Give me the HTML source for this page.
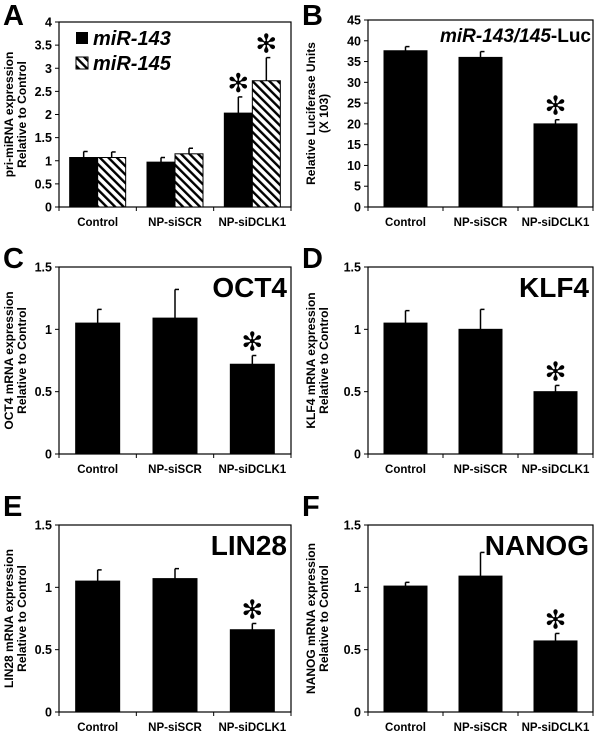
<!DOCTYPE html>
<html><head><meta charset="utf-8"><style>
html,body{margin:0;padding:0;background:#fff;}
svg{display:block;font-family:"Liberation Sans",Arial,sans-serif;font-weight:bold;}
</style></head><body>
<svg id="fig" width="600" height="742" viewBox="0 0 600 742">
<defs>
<pattern id="hatch" patternUnits="userSpaceOnUse" width="6" height="6" patternTransform="rotate(-45)">
<rect width="6" height="6" fill="#fff"/><rect width="2.4" height="6" fill="#000"/>
</pattern>
</defs>
</svg>
<script>
const cats = ["Control","NP-siSCR","NP-siDCLK1"];
const aMiR143 = [1.07,0.97,2.03];
const aMiR143Err = [0.13,0.10,0.35];
const aMiR145 = [1.07,1.15,2.73];
const aMiR145Err = [0.12,0.12,0.50];
const aTicks = ["0","0.5","1","1.5","2","2.5","3","3.5","4"];
const bVals = [37.6,36.0,20.0];
const bErr = [1.0,1.4,1.0];
const bTicks = ["0","5","10","15","20","25","30","35","40","45"];
const cVals = [1.05,1.09,0.72];
const cErr = [0.11,0.23,0.07];
const dVals = [1.05,1.00,0.50];
const dErr = [0.10,0.16,0.05];
const eVals = [1.05,1.07,0.66];
const eErr = [0.09,0.08,0.05];
const fVals = [1.01,1.09,0.57];
const fErr = [0.03,0.19,0.06];
const geneTicks = ["0","0.5","1","1.5"];
const signif = [false,false,true];

const svg = document.getElementById('fig');
const NS = 'http://www.w3.org/2000/svg';
function mk(tag, attrs, parent){
  const e = document.createElementNS(NS, tag);
  for (const k in attrs) e.setAttribute(k, attrs[k]);
  (parent||svg).appendChild(e); return e;
}
function txt(s, attrs, parent){ const t = mk('text', attrs, parent); t.textContent = s; return t; }

function panel(o){
  const g = mk('g', {});
  
  
  const x0=o.x0,x1=o.x1,y0=o.y0,y1=o.y1,ymax=o.ymax;
  const ys = v => y1 - (v/ymax)*(y1-y0);
  const gw = (x1-x0)/cats.length;
  const xs = i => x0 + gw*(i+0.5);
  const frame = mk('rect',{x:x0,y:y0,width:x1-x0,height:y1-y0,fill:'none',stroke:'#000','stroke-width':1.2},g);
  
  
  o.ticks.forEach(t=>{
    const y = ys(parseFloat(t));
    mk('line',{x1:x0-4,x2:x0,y1:y,y2:y,stroke:'#000','stroke-width':1},g);
    const l = txt(t,{x:x0-7,y:y+4.5,'text-anchor':'end','font-size':12.5},g);
    
    
  });
  for (let i=0;i<=cats.length;i++){
    const x = x0+gw*i;
    mk('line',{x1:x,x2:x,y1:y1,y2:y1+4,stroke:'#000','stroke-width':1},g);
  }
  cats.forEach((c,i)=>{
    const l = txt(c,{x:xs(i),y:y1+19,'text-anchor':'middle','font-size':11.5},g);
    
    
  });
  o.series.forEach((s,si)=>{
    s.vals.forEach((v,i)=>{
      const bw = o.barW;
      const cx = xs(i) + (o.series.length>1 ? (si-0.5)*bw : 0);
      const y = ys(v), ye = ys(v+s.err[i]);
      mk('line',{x1:cx,x2:cx,y1:ye,y2:y,stroke:'#000','stroke-width':1.5},g);
      mk('line',{x1:cx,x2:cx+4,y1:ye,y2:ye,stroke:'#000','stroke-width':1.5},g);
      const r = mk('rect',{x:cx-bw/2,y:y,width:bw,height:y1-y,fill:s.fill,stroke:'#000','stroke-width':1},g);
      
      
      if (s.sig && s.sig[i]){
        const st = txt('\u273B',{x:cx,y:ye-5,'text-anchor':'middle','font-size':26,'font-weight':'normal','font-family':'DejaVu Sans, sans-serif'},g);
        
        
      }
    });
  });
  const tx = o.titleX;
  const yt = txt('',{transform:`translate(${tx},${(y0+y1)/2}) rotate(-90)`,'text-anchor':'middle','font-size':12},g);
  
  
  o.ytitle.forEach((line,k)=>{
    const ts = mk('tspan',{x:0,dy:k===0?0:13},yt); ts.textContent=line;
  });
  const L = txt(o.letter,{x:o.lx,y:o.ly,'font-size':29},g);
  
  
  if (o.gene){
    const gt = txt(o.gene,{x:x1-4,y:y0+30,'text-anchor':'end','font-size':28},g);
    
    
  }
  return g;
}

const gA = panel({name:'panel-a-pri-mirna',x0:59,x1:291,y0:22,y1:207,ymax:4,ticks:aTicks,barW:28,titleX:13,
  ytitle:['pri-miRNA expression','Relative to Control'],letter:'A',lx:3,ly:25,
  series:[{key:'mir143',vals:aMiR143,err:aMiR143Err,fill:'#000',sig:signif},
          {key:'mir145',vals:aMiR145,err:aMiR145Err,fill:'url(#hatch)',sig:signif}]});
const lg = mk('g',{},gA);


mk('rect',{x:76,y:32,width:12,height:12,fill:'#000'},lg);
const l1 = txt('miR-143',{x:93,y:45,'font-size':20,'font-style':'italic'},lg);


mk('rect',{x:76,y:57,width:12,height:12,fill:'url(#hatch)',stroke:'#000','stroke-width':1},lg);
const l2 = txt('miR-145',{x:93,y:70,'font-size':20,'font-style':'italic'},lg);



const gB = panel({name:'panel-b-luciferase',x0:368,x1:593,y0:20,y1:207,ymax:45,ticks:bTicks,barW:43,titleX:315,
  ytitle:['Relative Luciferase Units','(X 103)'],letter:'B',lx:302,ly:25,
  series:[{key:'luc',vals:bVals,err:bErr,fill:'#000',sig:signif}]});
const bt = txt('',{x:591,y:42,'text-anchor':'end','font-size':19},gB);


const t1 = mk('tspan',{'font-style':'italic'},bt); t1.textContent='miR-143/145';
const t2 = mk('tspan',{},bt); t2.textContent='-Luc';

panel({name:'panel-c-oct4',x0:59,x1:291,y0:267,y1:454,ymax:1.5,ticks:geneTicks,barW:44,titleX:13,
  ytitle:['OCT4 mRNA expression','Relative to Control'],letter:'C',lx:3,ly:268,gene:'OCT4',
  series:[{key:'oct4',vals:cVals,err:cErr,fill:'#000',sig:signif}]});
panel({name:'panel-d-klf4',x0:368,x1:593,y0:267,y1:454,ymax:1.5,ticks:geneTicks,barW:43,titleX:315,
  ytitle:['KLF4 mRNA expression','Relative to Control'],letter:'D',lx:302,ly:268,gene:'KLF4',
  series:[{key:'klf4',vals:dVals,err:dErr,fill:'#000',sig:signif}]});
panel({name:'panel-e-lin28',x0:59,x1:291,y0:525,y1:712,ymax:1.5,ticks:geneTicks,barW:44,titleX:13,
  ytitle:['LIN28 mRNA expression','Relative to Control'],letter:'E',lx:3,ly:516,gene:'LIN28',
  series:[{key:'lin28',vals:eVals,err:eErr,fill:'#000',sig:signif}]});
panel({name:'panel-f-nanog',x0:368,x1:593,y0:525,y1:712,ymax:1.5,ticks:geneTicks,barW:43,titleX:315,
  ytitle:['NANOG mRNA expression','Relative to Control'],letter:'F',lx:302,ly:516,gene:'NANOG',
  series:[{key:'nanog',vals:fVals,err:fErr,fill:'#000',sig:signif}]});
</script>
</body></html>
